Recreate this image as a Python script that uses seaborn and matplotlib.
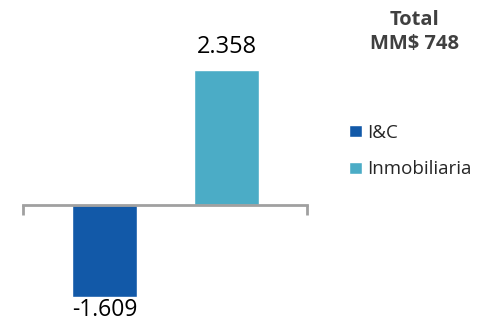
import matplotlib
matplotlib.use("Agg")
import matplotlib.pyplot as plt
import seaborn as sns
import pandas as pd
from matplotlib.patches import Patch

categorias = ["I&C", "Inmobiliaria"]
valores = [-1.609, 2.358]
etiquetas = ["-1.609", "2.358"]
colores = ["#1259A8", "#4BACC6"]
total_txt = "Total\nMM$ 748"

sns.set_style("white")
plt.rcParams['font.family'] = ['Open Sans', 'DejaVu Sans']

df = pd.DataFrame({"cat": categorias, "val": valores})

fig = plt.figure(figsize=(4.83, 3.24), dpi=100)
ax = fig.add_axes([23 / 483, 0, (307 - 23) / 483, 1])

sns.barplot(data=df, x="cat", y="val", hue="cat", palette=colores,
            width=0.533, dodge=False, legend=False, ax=ax, saturation=1)

ax.set_xlim(-0.668, 1.66)
ax.set_ylim(-2.079, 3.581)

for sp in ["top", "right", "left"]:
    ax.spines[sp].set_visible(False)
ax.spines["bottom"].set_position(("data", 0))
ax.spines["bottom"].set_color("#A0A0A0")
ax.spines["bottom"].set_linewidth(2)
ax.set_xticks([-0.668, 1.66])
ax.set_xticklabels([])
ax.tick_params(axis="x", direction="out", length=7, width=2, color="#A0A0A0", bottom=True)
ax.set_yticks([])
ax.set_xlabel("")
ax.set_ylabel("")

for i, (v, t) in enumerate(zip(valores, etiquetas)):
    if v >= 0:
        ax.text(i, v + 0.2, t, ha="center", va="bottom", fontsize=17, color="black", clip_on=False)
    else:
        ax.text(i, v - 0.02, t, ha="center", va="top", fontsize=16.5, color="black", clip_on=False)

fig.text(415 / 483, 1 - 32 / 324, total_txt, ha="center", va="center", fontsize=14.5,
         fontweight="bold", color="#404040", linespacing=1.3)

handles = [Patch(facecolor=c, label=l) for c, l in zip(colores, categorias)]
fig.legend(handles=handles, loc="center left", bbox_to_anchor=(340 / 483, 1 - 151 / 324),
           frameon=False, fontsize=13.5, handlelength=0.65, handleheight=0.65,
           handletextpad=0.3, labelspacing=1.0, borderpad=0)

fig.savefig("out.png", dpi=100)
